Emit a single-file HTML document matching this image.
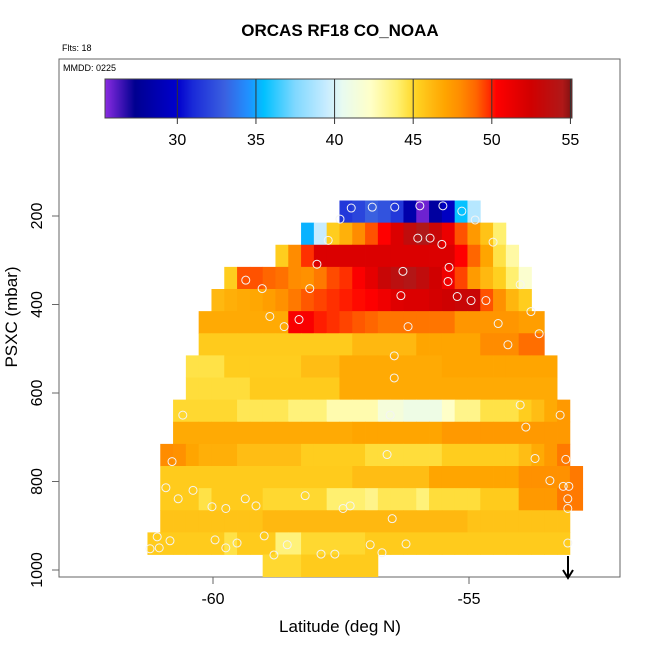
<!DOCTYPE html>
<html><head><meta charset="utf-8"><style>
body{margin:0;background:#fff;}
svg{display:block;font-family:"Liberation Sans",sans-serif;}
</style></head><body>
<svg id="chart" width="650" height="650" viewBox="0 0 650 650" xmlns="http://www.w3.org/2000/svg">
<text x="340" y="36" text-anchor="middle" font-size="17" font-weight="bold">ORCAS RF18 CO_NOAA</text>
<text x="62" y="51" font-size="9">Flts: 18</text>
<rect x="59" y="59" width="561" height="518" fill="none" stroke="#666" stroke-width="1"/>
<text x="63" y="71" font-size="9">MMDD: 0225</text>
<g id="cells"></g>
<g id="circles"></g>
<g id="cbar"></g>
<g id="axes"></g>
<line x1="568" y1="556" x2="568" y2="577" stroke="#000" stroke-width="2"/>
<path d="M563,570 L568,578 L573,570" fill="none" stroke="#000" stroke-width="2"/>
<text x="340" y="632" text-anchor="middle" font-size="17">Latitude (deg N)</text>
<text transform="translate(17,317) rotate(-90)" text-anchor="middle" font-size="17">PSXC (mbar)</text>
</svg>
<script>
const rowPressure=[190,240,290,340,390,440,490,540,590,640,690,740,790,840,890,940,990];
const rowStartCol=[12,9,7,3,2,1,1,0,0,-1,-1,-2,-2,-2,-2,-3,6];
function rep(v,n){return Array(n).fill(v);}
const row0=[31.5,32,33,32.5,31.5,28.5,25.8,28,29.5,35.6,39];
const row1=[35.2,39.5,45.4,46.5,48,49.3,50.3,52,53.5,54.5,53,51.2,49.3,47.5,45.8,44];
const row2=[45.4,48,49.8].concat(rep(52,11),[50.3,49,47,44.6,43]);
const row3=[45.4,49.3,49.3,49,48.7,48,47.8,48.5,49.4,49.8,50.5,51.5,53,53.8,54.3,53.5,52.5,51,49.5,47.4,46.2,45.3,44,42];
const row4=[46.2,46.6,46.8,46.9,47.3,47.8,48.5,49.2,49.5,49.8,50,50.2,50.4,51,51.8,52,52,52.3,52.6,53,53,49.3,47.8,46.3,45.4];
const row5=rep(46.8,7).concat([50.6,50.6,50,49.8,49.5,49.2,49],rep(48.6,6),rep(47.6,5),[47.3,47.3]);
const row6=rep(45.5,12).concat(rep(46.2,5),rep(47,5),rep(48,3),[48.8,48.8]);
const row7=rep(44.6,3).concat(rep(45.4,6),rep(46,3),rep(46.8,8),rep(47,9));
const row8=rep(44.8,5).concat(rep(45.5,7),rep(46.8,17));
const row9=rep(45,5).concat(rep(44.4,4),rep(43.8,3),rep(42.8,4),[41.5,41.5,41,41,41,42.3,43.5,43.5,44.6,44.6,44.6,45.4,46,46.8,47.5]);
const row10=rep(46.8,14).concat(rep(47,7),rep(47.5,10));
const row11=[48,47.8,47,46.6,46.6,46.6].concat(rep(46,5),rep(45.4,5),rep(44.8,6),rep(45.4,6),[46,46.8,47.5,48.5]);
const row12=rep(45.5,15).concat(rep(46,6),rep(47,7),rep(47.8,4),[48.5]);
const row13=[45.5,45.5,45.5,44.6,45.5,45.5,45.5,45.5].concat(rep(45,5),[44,44,44,43.5,44.4,44.4,44.4,43.8],rep(44.8,4),rep(45.5,3),rep(47.5,3),[48.5,48.5]);
const row14=rep(45.8,8).concat(rep(46.2,16),rep(45.8,8));
const row15=rep(45.5,6).concat([44.6,45.5,45.5,45.5,43.8,43.8],rep(45,5),rep(45.5,16));
const row16=[45,45,45].concat(rep(45.5,6));
const rowValues=[row0,row1,row2,row3,row4,row5,row6,row7,row8,row9,row10,row11,row12,row13,row14,row15,row16];
const pointLat=[-57.30,-56.89,-56.45,-55.96,-55.51,-55.14,-57.52,-54.88,-57.75,-56.00,-55.76,-55.53,-54.53,-57.97,-56.29,-55.39,-59.36,-59.04,-58.11,-55.41,-54.00,-56.33,-55.23,-54.96,-54.67,-58.89,-58.32,-58.61,-56.19,-54.43,-53.79,-53.63,-54.24,-56.46,-56.46,-60.59,-56.54,-54.00,-53.22,-53.89,-60.80,-56.60,-53.71,-53.11,-60.92,-60.39,-60.68,-59.37,-59.16,-58.20,-57.32,-59.75,-60.02,-57.46,-56.50,-53.16,-53.05,-53.07,-53.42,-61.09,-60.84,-61.05,-61.23,-59.96,-59.75,-59.53,-59.00,-58.81,-58.55,-57.89,-57.62,-56.93,-56.70,-56.23,-53.07,-53.07];
const pointP=[182,180,180,177,177,189,207,209,255,250,250,264,259,309,325,316,345,364,364,348,355,380,382,391,391,427,434,450,450,443,416,466,491,516,566,650,650,627,650,677,755,739,748,750,814,820,839,839,855,832,855,861,857,861,884,811,811,839,798,925,934,950,952,932,950,939,923,966,943,964,964,943,961,941,939,861];
const cbarTicks=[30,35,40,45,50,55];
const xTicks=[-60,-55];
const yTicks=[200,400,600,800,1000];

const NS="http://www.w3.org/2000/svg";
function xs(lat){return 213+(lat+60)*51.2;}
function ys(p){return 216+(p-200)*0.4425;}
const LAT0=-60.53, DLAT=0.25, DP=50;
const stops=[[25.4,"#8a2be2"],[27.3,"#000090"],[30,"#0000cd"],[31,"#1a2ad8"],[33,"#3a60e0"],[34.5,"#2090ff"],[35.5,"#00c0ff"],[37.5,"#80d8ff"],[39.5,"#c8ecff"],[40.5,"#e8fbf0"],[42.3,"#ffffc8"],[44,"#fff070"],[44.7,"#ffe040"],[45.3,"#ffd020"],[46.2,"#ffb810"],[47,"#ffa500"],[48,"#ff8c00"],[49,"#ff6600"],[49.8,"#ff3000"],[50.3,"#ff0000"],[52.5,"#d00000"],[54.5,"#b01818"],[55.1,"#801010"]];
function hx(c){return [1,3,5].map(i=>parseInt(c.substr(i,2),16));}
function cmap(v){
  if(v<=stops[0][0])return stops[0][1];
  for(let i=1;i<stops.length;i++){
    if(v<=stops[i][0]){const a=hx(stops[i-1][1]),b=hx(stops[i][1]);const t=(v-stops[i-1][0])/(stops[i][0]-stops[i-1][0]);
      return "rgb("+a.map((x,k)=>Math.round(x+(b[k]-x)*t)).join(",")+")";}
  }
  return stops[stops.length-1][1];
}
function mk(tag,attrs,parent){const e=document.createElementNS(NS,tag);for(const k in attrs)e.setAttribute(k,attrs[k]);parent.appendChild(e);return e;}

const cells=document.getElementById('cells');
rowValues.forEach((vals,r)=>{
  const p=rowPressure[r];
  vals.forEach((v,i)=>{
    const lat=LAT0+(rowStartCol[r]+i)*DLAT;
    const x1=xs(lat),x2=xs(lat+DLAT),y1=ys(p-DP/2),y2=ys(p+DP/2);
    const e=mk('rect',{x:x1,y:y1,width:x2-x1+0.4,height:y2-y1+0.4,fill:cmap(v)},cells);
    
    
  });
});
const circ=document.getElementById('circles');
pointLat.forEach((lat,i)=>{
  const e=mk('circle',{cx:xs(lat),cy:ys(pointP[i]),r:4,fill:'none',stroke:'#f4f4f4','stroke-width':1},circ);
  
  
});
const cb=document.getElementById('cbar');
const cbL=105,cbR=572,vMin=25.4,vMax=55.1;
function cx(v){return cbL+(v-vMin)/(vMax-vMin)*(cbR-cbL);}
for(let x=cbL;x<cbR;x+=1){
  const v=vMin+(x+0.5-cbL)/(cbR-cbL)*(vMax-vMin);
  mk('rect',{x:x,y:79,width:1.2,height:39,fill:cmap(v)},cb);
}
const fr=mk('rect',{x:cbL,y:79,width:cbR-cbL,height:39,fill:'none',stroke:'#444','stroke-width':1},cb);


cbarTicks.forEach(t=>{
  mk('line',{x1:cx(t),y1:79,x2:cx(t),y2:124,stroke:'#333','stroke-width':1},cb);
  const tx=mk('text',{x:cx(t),y:145,'text-anchor':'middle','font-size':16},cb);
  tx.textContent=t;
  
  
});
const ax=document.getElementById('axes');
xTicks.forEach(t=>{
  mk('line',{x1:xs(t),y1:577,x2:xs(t),y2:584,stroke:'#666'},ax);
  const tx=mk('text',{x:xs(t),y:604,'text-anchor':'middle','font-size':16},ax);
  tx.textContent=t;
  
  
});
yTicks.forEach(t=>{
  mk('line',{x1:52,y1:ys(t),x2:59,y2:ys(t),stroke:'#666'},ax);
  const tx=mk('text',{transform:'translate(42,'+ys(t)+') rotate(-90)','text-anchor':'middle','font-size':16},ax);
  tx.textContent=t;
  
  
});
</script>
</body></html>
